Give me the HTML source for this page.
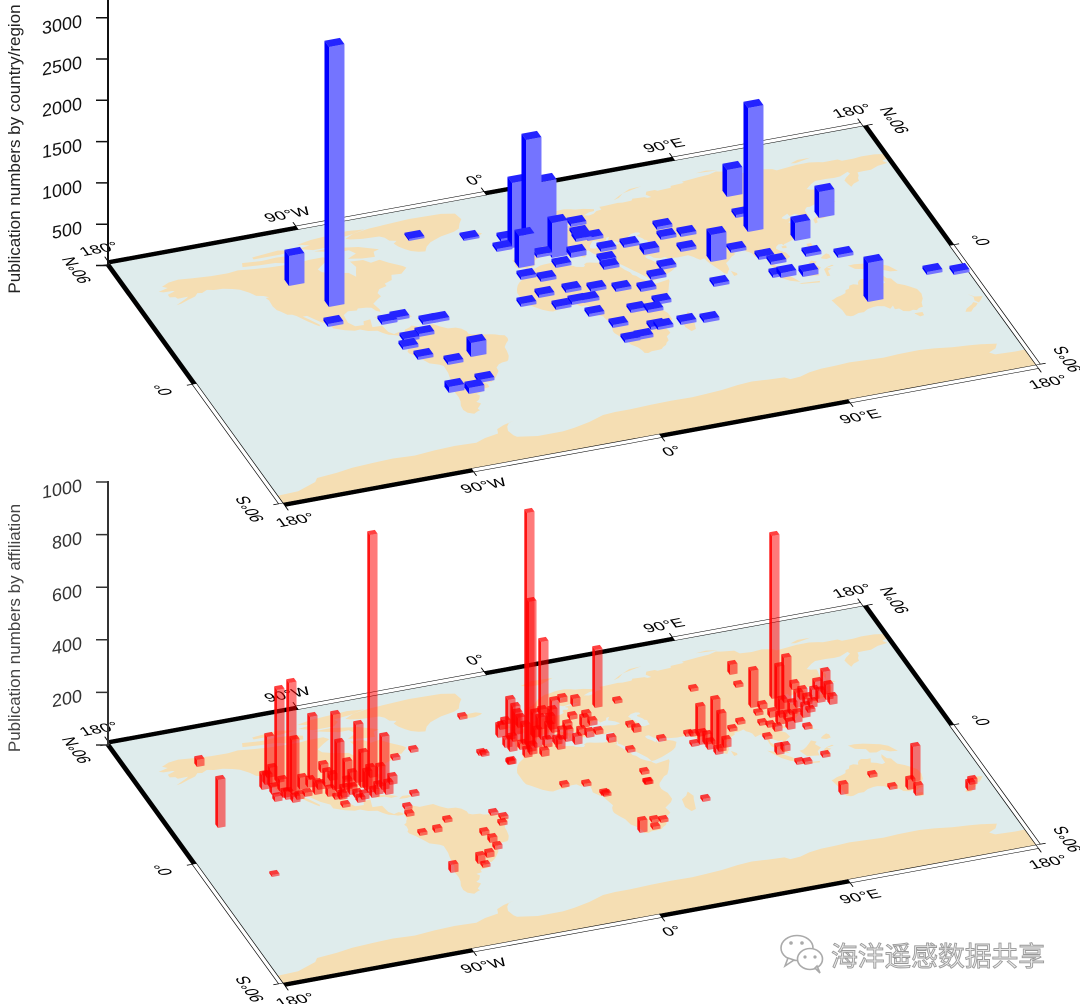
<!DOCTYPE html>
<html><head><meta charset="utf-8">
<style>
html,body{margin:0;padding:0;background:#fff;}
svg{display:block;font-family:"Liberation Sans","Noto Sans CJK SC",sans-serif;}
</style></head><body>
<svg id="s" width="1080" height="1004" viewBox="0 0 1080 1004" xmlns="http://www.w3.org/2000/svg">
<defs>
<g id="map">
 <rect x="-180" y="-90" width="360" height="180" fill="#dfecec"/>
 <g transform="scale(1,-1)" fill="#f5deb3">
  <polygon points="-168,65.5 -163,67 -165,68.5 -161,70.5 -156,71.3 -150,70.5 -141,69.6 -133,69.5 -128,70.2 -120,69 -114,68.3 -108,68 -100,67.8 -95,68.5 -88,68.5 -86,66.5 -90,64 -94,61 -93,58.7 -88,56.5 -82,55 -80,51.5 -78.5,55 -77,58 -78,62.3 -72,61.8 -69.5,59 -65,60 -62,57 -57,53 -56,51.5 -60,48 -64.5,48.5 -66,45 -70,43.5 -70,41.7 -74,40.5 -76,38 -75.5,35.5 -78,33.8 -81,31.5 -80,27 -80.5,25.2 -82,26.5 -83,29 -85,29.7 -89,30.2 -90,29 -94,29.6 -97,27.5 -97.5,22 -95.5,18.7 -91.5,18.5 -90.5,21 -87,21.5 -88,18 -88.5,16 -84,15.8 -83.3,11 -81.5,8.8 -79,9.5 -77.5,8.5 -78,7.2 -80.3,7.3 -81.5,8 -84,9 -86,11 -87.5,13 -91.5,14 -94.5,16 -97,15.8 -101,17.3 -105.5,20 -105.5,22.8 -109,26 -112.7,31.5 -114.7,31.5 -113,29 -110,24 -110.5,23 -112,24.8 -114,27.5 -115.5,30 -117,32.5 -118.5,34 -120.6,34.6 -122.5,37.5 -123.7,39 -124.3,42 -124,46.3 -124.7,48.4 -123,48.5 -125,50 -128,51 -130,54 -133,57 -136,58.5 -140,59.8 -144,60 -147,61 -150,59.5 -152,60 -154,58 -157.5,56.8 -162,55 -164.5,54.5 -158,58 -157,58.8 -162,58.6 -162.5,60 -165,60.5 -165,62.5 -161,64 -162,64.5 -166,64.6"/>
  <polygon points="-62,67 -65,66 -66,62.5 -72,63 -78,64.5 -73,67 -75,70 -80,70 -90,73.5 -82,73.7 -70,71"/>
  <polygon points="-125,71.8 -118,71 -110,70.5 -104,68.5 -101,69.5 -97,69.5 -96,72 -100,73.5 -108,74 -115,73.5 -124,74.5"/>
  <polygon points="-90,74.5 -80,74.5 -77,77 -78,79 -70,80 -62,82 -70,83 -88,81.5 -95,80 -90,78 -96,77"/>
  <polygon points="-118,75.5 -105,75.5 -98,76.5 -105,78.5 -118,77"/>
  <polygon points="-73,78 -68,80.5 -60,82 -40,83.5 -25,83 -19,81.5 -18,77 -20,74.5 -22,71 -25,69.5 -32,68 -38,65.5 -41,63 -43,60 -46,60.5 -49,62 -51,64 -53,66.5 -54,69 -52,70.5 -55,71.5 -56,74 -58,75.5 -66,76 -71,77"/>
  <polygon points="-24,65.5 -22,66.4 -16,66.5 -13.6,65.2 -14.5,64.4 -18,63.4 -22.5,63.8 -24,64.8"/>
  <polygon points="-85,22 -82,23.2 -77,21.8 -74.2,20.2 -77.7,19.9 -80,21.5"/>
  <polygon points="-74.5,18.5 -72.5,19.9 -69.5,19.6 -68.4,18.5 -71,18 -74.5,18.2"/>
  <polygon points="-77,8 -75.5,10.5 -73,11.3 -71.5,12.4 -70,11.5 -68.5,10.5 -66,10.6 -64,10.7 -62,10.7 -60,8.5 -58,6.8 -57,6 -53.5,5.6 -51.5,4.2 -50,1.8 -50,0 -48.5,-1 -45,-1.4 -44,-2.4 -41,-3 -39,-3.7 -37.2,-4.8 -35.2,-5.5 -34.8,-7.6 -35.2,-9.2 -37,-11 -38.8,-13.3 -39,-16 -39.7,-19.5 -41,-22 -42,-23 -44.6,-23.3 -46.5,-24 -48.5,-26 -48.7,-28.5 -50.5,-30.8 -52,-32.5 -53.4,-33.7 -54.9,-34.9 -56.8,-34.5 -58.4,-34.1 -57.2,-35.8 -57.5,-38 -62,-38.8 -62.2,-40.5 -65,-41 -64,-42.5 -65.5,-45 -67.5,-46.3 -66,-48 -67.5,-49.5 -69,-51 -68.5,-52.3 -70,-52.8 -72,-54 -74.5,-52.5 -75.5,-50 -75.2,-47 -74,-44 -73.5,-41 -73.7,-37.5 -72,-33 -71.5,-30 -71.3,-27 -70.5,-23.5 -70.3,-18.5 -71.5,-17.2 -75.5,-15 -76.5,-13 -79,-8.5 -81,-6 -81.2,-4.5 -80.3,-3.4 -80,-1 -80.5,0.5 -79,1.5 -78.5,2.7 -77.5,4 -77.4,6.5 -77.5,8"/>
  <polygon points="-9,37 -9.5,39 -8.7,42 -9.2,43.2 -8,43.7 -4.5,43.4 -1.8,43.4 -1.2,46 -2.2,47.1 -4.5,47.9 -4.5,48.6 -1.6,48.7 -1.3,49.7 0.2,49.7 1.6,50.9 3.2,51.3 4.3,52.2 4.8,53 7,53.5 8.5,53.6 8.6,55.4 8.1,56.6 10,57.6 10.6,57.3 10.3,56.2 10.8,55 10,54.6 11,54 12.5,54.4 14.3,53.8 16,54.3 18.6,54.5 19.9,54.9 21.1,55.5 21,56.8 22,57.5 23.5,57 24.3,57.8 24.4,58.4 23.5,58.8 23.4,59.3 25,59.5 28,59.5 30,60 28.5,60.5 26,60.4 22.9,59.9 21.4,60.8 21.6,61.7 21.1,62.7 22,63.5 24.5,64.9 25.4,65.2 24.6,65.7 22.2,65.8 21.2,64.8 19,63.5 17.5,62.3 17.2,61.3 18.8,60 17.9,58.9 16.5,57.4 15.9,56.1 14.7,56.2 13,55.4 12.7,56.5 11.8,57.6 11.1,59 10.4,59.5 8.4,58.2 6.6,58.1 5.6,58.9 5,60 5,61.5 5.3,62.4 8,63.3 10,64 11.4,64.9 12.5,66 14,67.3 15.2,68.2 17,69 18.5,69.8 21.4,70.2 23.7,70.8 26,71 28.2,71 31,70.3 33,69.5 36.5,69 41,67.5 40.5,66.3 38,66 34.8,64.6 37,63.9 39.5,64.5 41.5,66 44,66.3 44,68.4 46,68.3 53,68.8 55,68.4 59.5,68.6 60.5,69.8 66,69.3 67,68.5 69,68.6 67.3,70.8 68.5,72.8 72.5,72.8 73.5,72 80,72.4 80.5,73.6 87,74 86.5,75 95,76 100,76.5 104,77.7 106,77 112,76 113.5,73.5 119,73 124,73.5 128.5,72.4 130,71 135,71.6 140,72.3 146,72.3 150,71.5 152,70.8 159,70.8 160.5,69.5 166,69.5 170,70 176,69.8 180,68.9 180,65.5 177.5,64.5 179,62.5 174,61.7 170,59.9 166,60 163.5,59.8 163,57.5 162,56 161.5,54 158.5,52.8 156.5,51 156,53 155.5,56 157,57.7 160,60 159.5,61.5 155,59.3 152,59 148,59.3 143,59.3 140.5,57.8 137,55 138.5,54 141,53.5 141,52.2 140.5,50 140.4,48.3 138.2,46.3 135.5,43.8 133,42.8 131.5,42.9 130.7,42.2 129.7,41 129.5,39.5 129.5,36 129,35.1 126.5,34.5 126.2,36.5 126.5,37.7 125,39.5 124.3,39.9 121.5,39 121.2,40.9 118,39.2 117.5,38.5 119,37.2 120.5,37.8 122.5,37 120.5,36 119,35 120.5,33 121.9,31.7 121.5,30.8 122,29.8 121,28 119.5,25.5 117,23.5 114,22.3 110.5,21 110,20.2 109.7,21.5 108,21.5 106.5,20.3 105.8,19 107,17 108.8,15.3 109.3,12 107,10.5 105,8.6 104.8,10.5 103,10.5 101,12.7 100,13.5 99.2,10.3 100.3,8.5 101,6.8 102.5,6 103.5,4.5 103.5,2.7 104.3,1.4 103.3,1.4 101.3,2.8 100.3,5 98.5,8 98.5,10 98.7,13 97.7,16 97.3,17 96,16.5 94.5,16 94.3,18.7 93.4,20 92.3,21 91.8,22.5 90.5,22 88.9,21.6 87,21.5 86.5,20 84.7,19.2 82.3,17 80.3,15.5 80.2,13.3 79.8,11 79,10.2 77.5,8.1 76.5,8.9 75.8,11.3 74.5,14.5 73.3,17.5 72.8,19.5 72.6,21.3 70.5,20.8 69.2,22.4 68.5,23.5 67.3,24.8 66.6,25.4 64,25.3 61.5,25.2 57.3,25.8 56.4,27.1 54,26.7 51.5,27.9 50.1,30.2 48.8,30.2 48,29.5 48.4,28.2 50,26.2 50.8,24.7 51.6,25.8 51.6,24.3 54.5,24.2 56.4,26.3 56.4,24.9 58.7,23.6 59.8,22.4 58.5,20.4 57.7,19 56.5,18 55,17 52.2,15.6 48.7,14 45,12.8 43.5,12.7 42.7,15.5 40.5,19.5 39,21.7 37.5,24.3 35.5,27.5 34.6,28.1 34.9,29.5 34.3,31.3 35,33 35.9,35.5 36,36.8 34.5,36.8 32,36.2 30.5,36.5 28.2,36.7 27.3,37.8 26.5,39.5 26.3,40.4 26,40.8 24,40.7 22.7,40.5 23.8,38 22.5,36.4 21.5,37 21,38.5 20.2,39.6 19.5,41.8 18.5,42.5 16,43.5 14.5,45.2 13.6,45.7 12.3,45.2 12.5,44.2 13.6,43.5 16,41.9 18.5,40.2 17,39 16.6,38 15.7,38 16.1,39.5 15.5,40.2 14,41 12,41.9 10.5,43 10,44 8.7,44.4 7,43.6 4.5,43.4 3,43 3.2,41.9 0.8,41 0,39.7 -0.5,38.3 -0.7,37.6 -2.1,36.7 -4.4,36.7 -5.6,36 -6.4,36.8 -7.4,37.2"/>
  <polygon points="-5.5,50 1.5,51.2 1.7,52.8 0,53.5 -1.5,55 -2,56 -1.8,57.6 -3.5,58.6 -5,58.6 -6,56.5 -5,55 -3,54.5 -3,53.3 -4.5,52.8 -5,51.7 -3,51.4"/>
  <polygon points="-6,52 -6,54 -7.5,55.2 -10,54 -10,51.6"/>
  <polygon points="52,71 56,73.5 62,76.5 68,77 58,74.5 55,72"/>
  <polygon points="11,78.5 17,80.5 27,80 20,77 15,77"/>
  <polygon points="95,79 100,79.5 105,78.3 100,78.5"/>
  <polygon points="138,74 142,75.5 148,75.3 140,73.5"/>
  <polygon points="142,46 143.5,49 143,54 142.5,54.3 142,51"/>
  <polygon points="-17,14.7 -17,21 -16,23.5 -14.5,26 -13,27.7 -9.8,30 -9.5,32.5 -6.8,34 -6,35.8 -2,35.1 1,36.5 3,36.8 7,37 10,37.3 11,36.8 10.5,35.5 11,35 10,33.8 11.5,33.2 15,32.3 15.8,31.3 19,30.3 20,31 20,32 21.5,32.8 23,32.5 25,31.8 29,30.8 32,31.2 32.3,31.3 33.5,31.1 34.3,31.3 34.5,29.5 34,27.8 33,28.5 32.4,29.8 33.3,28 34.5,26 35.5,23.5 37,21 37.2,19 38.5,18 39.5,15.5 41.5,13.5 43.2,12.5 43.5,11.5 44.5,10.4 46.6,10.8 49,11.3 51.2,11.8 51,10.5 49.8,8.5 48,5 46,2 44,1 42,-1 41,-2 40,-3 39.2,-4.7 39,-7 39.5,-8.5 40.5,-10.5 40.5,-15 39,-17 35,-20 35.5,-22.5 35.5,-24 32.9,-26 32.5,-28.8 31,-30 30,-31.5 28,-32.7 27,-33.7 25.6,-33.9 22,-34 20,-34.8 18.5,-34.2 18.3,-32.5 17.5,-30 16.5,-28.6 15.2,-27 14.5,-22.8 13,-20 11.8,-17.3 11.8,-15.8 12.5,-13.5 13.6,-12 12.2,-6 12.3,-5 11,-4 9,-1 9.5,1 9.7,3 8.5,4.5 6,4.3 4.5,6.3 2,6.3 -1,5.1 -2,4.8 -4,5.2 -7.5,4.4 -9,5 -11.5,6.9 -13.2,8.8 -15,10.8 -16.7,12.5"/>
  <polygon points="49.3,-12 50.5,-15.5 49.5,-18 47.5,-24.5 45,-25.5 43.5,-22 44.5,-16.5 47.5,-14.5"/>
  <polygon points="79.8,6 80,9.8 81.9,7.5 81.5,6.3"/>
  <polygon points="130,31 131.5,31.5 132,34 135,33.5 140,35 141,38 142,40 141.5,41.5 140,40.5 139.5,38 137,37 133,35.5 130.5,34"/>
  <polygon points="140,41.5 141.5,42.5 145.5,43.3 142,45.5 140,43"/>
  <polygon points="120.2,22.5 121,25 122,25 120.7,22"/>
  <polygon points="108.7,18.5 110.5,18.2 111,19.7 110.5,20.1 108.7,19.8"/>
  <polygon points="120,18.5 122.3,18.5 122,16 121.5,14.2 124,12.8 123,13.2 120.6,14.2 120,16"/>
  <polygon points="122,7 124,6 126.2,6.5 126.5,8.8 125.5,9.8 123.5,8.7 122,7.5"/>
  <polygon points="95.3,5.5 98,4 104,-2 106,-6 102,-4 99,-1"/>
  <polygon points="105,-6.8 114.5,-7.7 114,-8.7 106,-7.5"/>
  <polygon points="109,1.5 110,-1.5 110.5,-3 116,-4 116.5,-1 119,1 117.5,4 119,5.5 117,7 115,5 113,3.2 111,1.8"/>
  <polygon points="119,-5.5 120.5,-5.5 121,-2 123,-1 121,0.5 124.5,1.5 125,0.8 120.5,0 119.8,-0.5"/>
  <polygon points="131,-1 134,-0.8 138,-1.5 141,-2.6 145,-4 148,-6 150.5,-10.5 147,-10 144,-7.8 141,-9 138,-8.3 137.5,-5.5 133,-4 132,-2.5"/>
  <polygon points="113.5,-22 114.2,-26 115,-30 115,-34 116.7,-35 118,-35 121,-33.8 123.5,-33.9 126,-32.3 129,-31.6 131,-31.5 134,-32.5 135.7,-34.8 137.8,-33 137.5,-35.7 139.5,-35.8 140.5,-37.9 143,-38.8 145,-38.3 146.5,-39 148,-37.8 150,-37.5 150.8,-34.5 152.5,-32 153.5,-28.5 153,-25 150.8,-22.5 149,-20.8 146.3,-19 145.5,-16 145.3,-14.8 143.5,-14 142.5,-10.7 141.6,-12.8 141.5,-16.8 139.8,-17.5 137.8,-16 135.5,-15 136.7,-12.2 135,-12.2 132.5,-11.5 131,-12.2 130,-13.5 129.5,-15 127.5,-14 125.5,-14.5 124.3,-16.5 122.5,-17 121.5,-19 119,-20 116.7,-20.6 114.5,-21.8"/>
  <polygon points="144.6,-40.7 148.3,-40.9 148,-43.2 146,-43.6 144.7,-41.3"/>
  <polygon points="172.7,-34.5 175,-37 178.5,-37.7 177,-39.5 175,-41.5 173.8,-39.5 174.5,-37"/>
  <polygon points="172.7,-40.5 174.3,-41.7 172.7,-43.5 171,-44.5 169,-46.6 166.5,-46 168,-44 171.5,-41.8"/>
  <polygon points="-180,-90 -180,-84.5 -170,-84 -160,-80 -158,-77.5 -148,-76.5 -140,-75 -130,-74.3 -120,-73.8 -110,-74.5 -100,-73.5 -90,-73 -80,-73.5 -75,-71.5 -68,-70 -67,-67 -63,-65 -57,-63.3 -60,-64 -62,-66.5 -63,-69.5 -62,-73 -61,-74.5 -52,-76.5 -40,-76.5 -34,-75.5 -26,-73.5 -18,-70.5 -12,-70 -5,-70 5,-69.5 15,-69.3 25,-69.5 32,-69 40,-68.3 48,-67 55,-66.3 62,-67 70,-67.6 72,-69.5 77,-69 82,-67.3 88,-66.3 95,-66 102,-65.5 110,-66 118,-66.5 125,-66 135,-65.8 142,-66.5 150,-68 158,-68.8 163,-69.5 170,-71 168,-74 164,-76 166,-78 175,-78.5 180,-78.3 180,-90"/>
  <g fill="#dfecec">
   <polygon points="27.5,42 28,43.5 29.5,45.2 30.8,46.5 33,46 33.5,44.6 35.5,45.1 36.6,45.3 37.5,47 39,47.2 38,46 37.5,45 38.5,44.4 40,43.5 41.5,42 41.5,41.5 39,41 36,41.7 34,42 31.5,41.2 29,41.2"/>
   <polygon points="47,45 49,46.5 51.5,47 53,46.5 53,45.3 51.3,45 51,44.3 52.7,42 52.9,41 54,40.5 53.8,39 53.9,37.3 51,36.7 49.5,37.5 48.9,38.5 49.3,40.2 48.5,41.8 47.5,43 47.6,43.8"/>
  </g>
 </g>
 <g stroke="#000" stroke-width="0.35">
  <rect x="-180" y="-92.6" width="90" height="2.6" fill="#000"/>
  <rect x="-90" y="-92.6" width="90" height="2.6" fill="#fff"/>
  <rect x="0" y="-92.6" width="90" height="2.6" fill="#000"/>
  <rect x="90" y="-92.6" width="90" height="2.6" fill="#fff"/>
  <rect x="-180" y="90" width="90" height="2.6" fill="#000"/>
  <rect x="-90" y="90" width="90" height="2.6" fill="#fff"/>
  <rect x="0" y="90" width="90" height="2.6" fill="#000"/>
  <rect x="90" y="90" width="90" height="2.6" fill="#fff"/>
  <rect x="-182.1" y="-90" width="2.1" height="90" fill="#000"/>
  <rect x="-182.1" y="0" width="2.1" height="90" fill="#fff"/>
  <rect x="180" y="-90" width="2.1" height="90" fill="#000"/>
  <rect x="180" y="0" width="2.1" height="90" fill="#fff"/>
 </g>
 <path stroke="#000" stroke-width="0.5" fill="none" d="M-180,-92.6V-95.5M-90,-92.6V-95.5M0,-92.6V-95.5M90,-92.6V-95.5M180,-92.6V-95.5M-180,92.6V95.5M-90,92.6V95.5M0,92.6V95.5M90,92.6V95.5M180,92.6V95.5M-182.1,-90H-184.6M-182.1,0H-184.6M-182.1,90H-184.6M182.1,-90H184.6M182.1,0H184.6M182.1,90H184.6"/>
 <g font-family="'Liberation Sans',sans-serif" font-size="8.6" fill="#000" text-anchor="middle">
  <text x="-180" y="-98.5">180°</text>
  <text x="-90" y="-98.5">90°W</text>
  <text x="0" y="-98.5">0°</text>
  <text x="90" y="-98.5">90°E</text>
  <text x="180" y="-98.5">180°</text>
  <text x="-180" y="105.7">180°</text>
  <text x="-90" y="105.7">90°W</text>
  <text x="0" y="105.7">0°</text>
  <text x="90" y="105.7">90°E</text>
  <text x="180" y="105.7">180°</text>
  <text transform="translate(-193,-90) rotate(-90)">90°N</text>
  <text transform="translate(-193,0) rotate(-90)">0°</text>
  <text transform="translate(-193,90) rotate(-90)">90°S</text>
  <text transform="translate(198,-90) rotate(-90)">90°N</text>
  <text transform="translate(198,0) rotate(-90)">0°</text>
  <text transform="translate(198,90) rotate(-90)">90°S</text>
 </g>
</g>
</defs>

<use href="#map" transform="matrix(2.09167,-0.38333,0.96111,1.32778,573,314.5)"/>
<use href="#map" transform="matrix(2.09167,-0.38333,0.96111,1.32778,573,794.5)"/>

<g stroke="#111">
 <line x1="108" y1="0" x2="108" y2="266" stroke-width="2"/>
 <path stroke-width="1.5" d="M96,265.5H108M96,224.2H108M96,182.9H108M96,141.6H108M96,100.3H108M96,59H108M96,17.7H108"/>
</g>
<g font-size="18" fill="#111" text-anchor="end">
 <text transform="translate(108,224.2) skewY(-10.4)" x="-26" y="4.5">500</text>
 <text transform="translate(108,182.9) skewY(-10.4)" x="-26" y="4.5">1000</text>
 <text transform="translate(108,141.6) skewY(-10.4)" x="-26" y="4.5">1500</text>
 <text transform="translate(108,100.3) skewY(-10.4)" x="-26" y="4.5">2000</text>
 <text transform="translate(108,59) skewY(-10.4)" x="-26" y="4.5">2500</text>
 <text transform="translate(108,17.7) skewY(-10.4)" x="-26" y="4.5">3000</text>
</g>
<text transform="translate(20,149) rotate(-90)" text-anchor="middle" font-size="17" fill="#222">Publication numbers by country/region</text>

<g stroke="#333">
 <line x1="108" y1="481" x2="108" y2="746" stroke-width="2"/>
 <path stroke-width="1.5" d="M96,745H108M96,692.4H108M96,639.8H108M96,587.2H108M96,534.6H108M96,482H108"/>
</g>
<g font-size="18" fill="#333" text-anchor="end">
 <text transform="translate(108,692.4) skewY(-10.4)" x="-26" y="4.5">200</text>
 <text transform="translate(108,639.8) skewY(-10.4)" x="-26" y="4.5">400</text>
 <text transform="translate(108,587.2) skewY(-10.4)" x="-26" y="4.5">600</text>
 <text transform="translate(108,534.6) skewY(-10.4)" x="-26" y="4.5">800</text>
 <text transform="translate(108,482) skewY(-10.4)" x="-26" y="4.5">1000</text>
</g>
<text transform="translate(20,628) rotate(-90)" text-anchor="middle" font-size="17" fill="#444">Publication numbers by affiliation</text>

<g id="bars1"></g>
<g id="bars2"></g>

<g fill="#fff" stroke="#aaa" stroke-width="1.6">
 <ellipse cx="797" cy="948" rx="16" ry="12.5"/>
 <path d="M788,958 L785,966 L794,960 Z"/>
 <ellipse cx="810" cy="959" rx="12.5" ry="10.5"/>
 <path d="M815,968 L820,973 L817,966 Z"/>
</g>
<g fill="#aaa">
 <circle cx="791" cy="943" r="1.8"/><circle cx="802" cy="943" r="1.8"/>
 <circle cx="805" cy="957" r="1.6"/><circle cx="815" cy="957" r="1.6"/>
</g>
<text x="831" y="966" font-size="27" fill="#ececec" stroke="#999" stroke-width="0.9" textLength="214" lengthAdjust="spacingAndGlyphs" font-family="'Liberation Sans','Noto Sans CJK SC',sans-serif">海洋遥感数据共享</text>

</svg>
<script>
(function(){
var NS="http://www.w3.org/2000/svg";
var dU=[2.09167,-0.38333], dV=[0.96111,1.32778];
var blue=[
[289,286,30],[329,307,260],[328,327,3],[382,325,3],[394,321,3],[423,325,3],[434,323,3],[404,342,3],[419,337,3],[403,350,3],[418,360,3],[448,365,3],[471,357,14],[449,393,6],[469,394,6],[479,383,3],
[409,241,2],[464,241,2],
[512,248,65],[526,252,112],[541,247,65],[552,258,35],[519,268,32],
[501,242,3],[497,252,3],[537,258,3],[571,227,3],[574,237,3],[576,242,3],[588,241,3],[571,258,5],[556,268,3],[601,252,3],[601,263,3],[604,270,3],[624,248,3],[644,255,5],[657,230,3],[661,240,3],[681,237,3],[681,252,3],[661,270,3],[651,280,3],
[521,280,3],[541,282,3],[566,293,3],[539,298,3],[521,307,3],[556,310,3],[572,305,3],[584,303,3],[591,292,3],[616,292,3],[641,292,3],[631,313,3],[648,313,3],[656,305,3],[589,317,3],[613,328,3],[625,343,3],[638,340,3],[651,330,3],[658,330,3],[681,325,3],[704,323,3],
[727,197,27],[736,218,3],[748,232,124],[819,218,26],[795,241,18],[731,253,3],[759,260,3],[771,265,3],[773,278,3],[781,278,5],[803,277,5],[806,257,3],[838,258,3],[711,262,27],[714,287,3],[868,302,39],[927,275,3],[954,275,3]
];
var red=[
[197,767,7],[218,828,48],[272,877,2],
[267,778,41],[277,783,93],[289,792,109],[292,795,55],[265,785,10],[272,795,8],[283,798,6],[297,800,5],[305,797,4],[300,790,12],
[262,790,15],[270,788,20],[280,792,12],[286,800,8],[293,803,6],[275,802,5],
[310,780,63],[308,788,8],[318,790,6],[333,790,75],[337,793,50],[321,773,8],[330,781,6],[356,783,58],[361,788,35],[370,778,243],[368,793,25],[382,790,53],[376,795,10],[350,795,8],[345,790,10],[340,800,6],[355,798,5],[362,800,6],
[315,795,12],[325,787,15],[328,797,8],[345,782,20],[350,788,15],[365,790,18],[372,798,8],[378,787,20],[386,795,12],[390,785,8],[342,798,10],[358,803,5],
[393,761,3],[411,753,3],[460,720,3],[479,756,3],[509,765,4],[412,797,3],[335,800,3],[343,808,3],[405,810,3],[407,817,3],
[445,823,3],[420,836,3],[435,833,4],[491,816,3],[501,820,3],[500,826,3],[482,836,4],[490,843,5],[495,850,4],[478,864,8],[487,858,5],[483,868,3],[451,873,8],
[527,747,234],[529,752,150],[541,740,98],[508,740,40],[513,742,35],[552,733,32],[573,707,8],[560,703,5],[579,736,6],[587,738,6],
[500,730,5],[505,748,8],[520,750,6],[530,755,10],[545,748,8],[555,745,6],[560,740,10],[565,730,6],[548,725,8],[538,730,12],[518,728,10],[503,725,4],[570,720,4],[540,715,5],[584,718,4],[590,726,5],[596,735,4],
[498,738,12],[510,752,15],[523,745,20],[535,748,18],[547,740,15],[558,750,10],[566,742,12],[575,745,8],[582,728,10],[515,735,22],[533,738,25],[550,730,20],[525,758,8],[542,757,6],
[595,708,58],[615,704,3],[628,728,3],[634,733,5],[659,742,3],[628,753,3],[642,775,3],[645,785,3],[562,788,3],[584,787,3],[604,797,3],[640,833,12],[652,823,3],[661,823,3],[653,830,3],[703,802,3],[508,765,3],[482,757,3],[609,743,5],[602,796,3],[646,785,3],
[691,737,3],[692,747,3],[698,737,30],[713,745,45],[719,752,38],[705,745,10],[730,732,3],[738,725,3],[686,737,3],[691,692,3],[730,675,10],[736,688,3],
[708,750,8],[700,745,12],[716,755,6],[724,748,8],
[772,699,163],[751,708,37],[777,710,43],[784,703,45],[790,715,12],[796,708,15],[800,700,10],[786,722,8],[778,725,10],[770,718,6],[792,690,6],
[780,718,18],[788,730,8],[795,723,10],[803,718,12],[810,708,6],[818,703,12],[826,700,15],[830,705,8],[775,732,5],[760,710,5],
[823,695,23],[812,700,10],[805,705,8],[815,690,8],
[808,713,3],[805,730,3],[756,716,3],[760,726,3],[765,740,3],[768,728,3],[777,755,8],[783,752,6],[797,765,3],[805,765,3],[823,758,3],
[841,795,10],[870,778,3],[890,790,3],[913,782,35],[908,790,10],[916,796,10],[968,791,8],[970,785,5]
];
function poly(g,pts,fill){
  var p=document.createElementNS(NS,'polygon');
  p.setAttribute('points',pts.map(function(q){return q[0].toFixed(2)+','+q[1].toFixed(2);}).join(' '));
  p.setAttribute('fill',fill);
  g.appendChild(p);
}
function draw(id,data,w,h,cols){
  var g=document.getElementById(id);
  data.slice().sort(function(a,b){return a[1]-b[1];}).forEach(function(d){
    var x=d[0],y=d[1],H=d[2];
    var ux=dU[0]*w,uy=dU[1]*w,vx=-dV[0]*h,vy=-dV[1]*h;
    var SW=[x,y],SE=[x+ux,y+uy],NW=[x+vx,y+vy],NE=[x+ux+vx,y+uy+vy];
    function up(p){return [p[0],p[1]-H];}
    poly(g,[SW,NW,up(NW),up(SW)],cols[0]);
    poly(g,[SW,SE,up(SE),up(SW)],cols[1]);
    poly(g,[up(SW),up(SE),up(NE),up(NW)],cols[2]);
  });
}
draw('bars1',blue,7.4,4.7,['#0000ff','#7474ff','#2424ff']);
draw('bars2',red,3.6,2.8,['rgba(255,0,0,0.92)','rgba(255,0,0,0.52)','rgba(255,0,0,0.75)']);
})();
</script>
</body></html>
